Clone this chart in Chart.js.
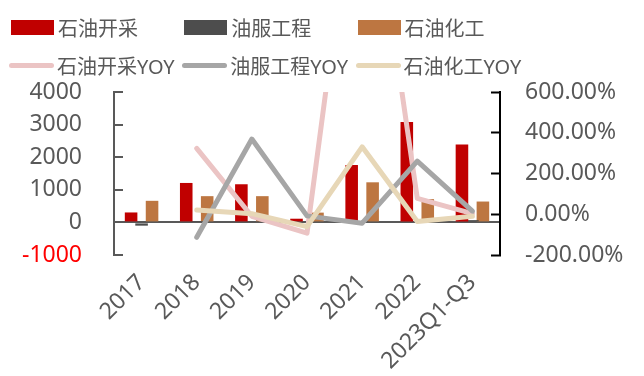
<!DOCTYPE html>
<html>
<head>
<meta charset="utf-8">
<script src="https://cdn.jsdelivr.net/npm/chart.js@4/dist/chart.umd.min.js"></script>
<style>
  html, body { margin: 0; padding: 0; background: #fff; }
  #wrap { position: relative; width: 644px; height: 376px; overflow: hidden; }
  #legend {
    position: absolute; left: 11px; top: 9px;
    display: grid; grid-template-columns: repeat(3, 173.3px);
    font: 20px "Noto Sans", "Noto Sans CJK SC", sans-serif; color: #595959;
  }
  .item { display: flex; align-items: center; height: 37.5px; white-space: nowrap; }
  .box { width: 43px; height: 15px; margin-right: 4px; }
  .line { width: 45px; height: 5px; border-radius: 3px; margin: 0 3px 0 -2px; }
</style>
</head>
<body>
<div id="wrap">
  <canvas id="c" width="644" height="376"></canvas>
  <div id="legend"></div>
</div>
<script>
const years = ['2017', '2018', '2019', '2020', '2021', '2022', '2023Q1-Q3'];

// 利润总额（亿元）
const upstream   = [305, 1210, 1170, 113, 1760, 3080, 2390];   // 石油开采
const oilService = [-100, 12, 40, 25, 15, 30, 70];             // 油服工程
const refining   = [662, 805, 805, 300, 1230, 713, 640];       // 石油化工

// 同比（%）
const upstreamYoy   = [null, 323, -10, -93, 1950, 78, 3];
const oilServiceYoy = [null, -113, 369, -8, -44, 261, 15];
const refiningYoy   = [null, 21, 3, -61, 331, -36, -10];

const leftTicks  = { min: -1000, max: 4000, step: 1000 };
const rightTicks = { min: -200, max: 600, step: 200 };

const FONT = '"Noto Sans", "Noto Sans CJK SC", sans-serif';
const GREY = '#595959';

function bar(label, data, color) {
  return { type: 'bar', label, data, backgroundColor: color, yAxisID: 'y', order: 10 };
}

function line(label, data, color, order) {
  return {
    type: 'line', label, data, borderColor: color, backgroundColor: color,
    borderWidth: 5, pointRadius: 0, tension: 0,
    borderCapStyle: 'round', borderJoinStyle: 'round',
    yAxisID: 'y1', order
  };
}

const chart = new Chart(document.getElementById('c'), {
  data: {
    labels: years,
    datasets: [
      bar('石油开采', upstream, '#C00000'),
      bar('油服工程', oilService, '#4D4D4D'),
      bar('石油化工', refining, '#BD7641'),
      line('石油开采YOY', upstreamYoy, '#EBC4C4', 3),
      line('油服工程YOY', oilServiceYoy, '#A6A6A6', 2),
      line('石油化工YOY', refiningYoy, '#E7D7B7', 1)
    ]
  },
  options: {
    responsive: false,
    animation: false,
    devicePixelRatio: 1,
    layout: { padding: { top: 92, left: 0, right: 0, bottom: 0 } },
    datasets: {
      bar: { categoryPercentage: 0.57, barPercentage: 1.2 }
    },
    plugins: { legend: { display: false }, tooltip: { enabled: false } },
    scales: {
      x: {
        grid: { display: false, drawTicks: false },
        border: { display: false },
        ticks: {
          autoSkip: false, minRotation: 45, maxRotation: 45, padding: 14,
          color: GREY, font: { family: FONT, size: 23 }
        },
        afterFit: s => { s.height = 121; }
      },
      y: {
        position: 'left',
        min: leftTicks.min, max: leftTicks.max,
        border: { color: GREY, width: 2 },
        grid: {
          color: c => c.tick && c.tick.value === 0 ? GREY : 'transparent',
          lineWidth: 2, tickColor: GREY, tickWidth: 2, tickLength: -9
        },
        ticks: {
          stepSize: leftTicks.step, padding: 41,
          color: c => c.tick.value < 0 ? '#FF0000' : GREY,
          font: { family: FONT, size: 23 },
          callback: v => String(v)
        },
        afterFit: s => { s.width = 114; }
      },
      y1: {
        position: 'right',
        min: rightTicks.min, max: rightTicks.max,
        border: { color: '#000', width: 2 },
        grid: {
          drawOnChartArea: false,
          tickColor: '#000', tickWidth: 2, tickLength: -9
        },
        ticks: {
          stepSize: rightTicks.step, padding: 34,
          color: GREY, font: { family: FONT, size: 23 },
          callback: v => v.toFixed(2) + '%'
        },
        afterFit: s => { s.width = 144; }
      }
    }
  }
});

// 图例：三列两行
const legend = document.getElementById('legend');
chart.data.datasets.forEach(ds => {
  const item = document.createElement('div');
  item.className = 'item';
  const sw = document.createElement('span');
  if (ds.type === 'bar') {
    sw.className = 'box';
    sw.style.background = ds.backgroundColor;
  } else {
    sw.className = 'line';
    sw.style.background = ds.borderColor;
  }
  const txt = document.createElement('span');
  txt.textContent = ds.label;
  item.appendChild(sw);
  item.appendChild(txt);
  legend.appendChild(item);
});
</script>
</body>
</html>
